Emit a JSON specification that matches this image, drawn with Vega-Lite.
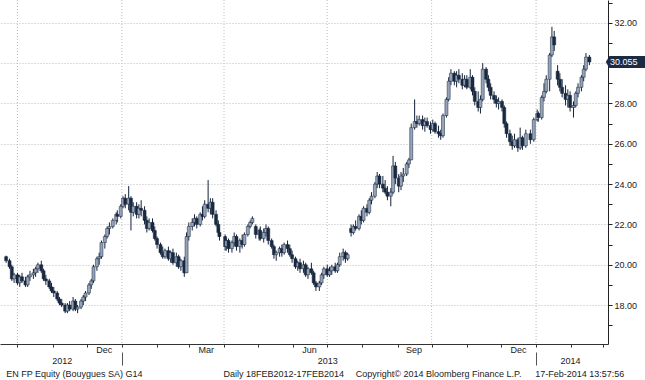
{
  "$schema": "https://vega.github.io/schema/vega-lite/v6.json",
  "width": 608,
  "height": 344,
  "autosize": {"type": "none"},
  "padding": {"left": 0, "top": 0, "right": 37, "bottom": 36},
  "background": "white",
  "config": {
    "view": {"stroke": null},
    "font": "Liberation Sans",
    "axis": {"labelFont": "Liberation Sans", "labelFontSize": 9, "labelColor": "#1a1a1a", "titleFont": "Liberation Sans"}
  },
  "datasets": {
    "px": [
      {"d":"2012-09-21","o":20.4,"h":20.45,"l":20.1,"c":20.2},
      {"d":"2012-09-24","o":20.2,"h":20.3,"l":19.8,"c":19.9},
      {"d":"2012-09-26","o":19.9,"h":20.0,"l":19.2,"c":19.3},
      {"d":"2012-09-28","o":19.3,"h":19.6,"l":19.1,"c":19.5},
      {"d":"2012-10-01","o":19.5,"h":19.6,"l":19.0,"c":19.1},
      {"d":"2012-10-03","o":19.1,"h":19.5,"l":18.9,"c":19.4},
      {"d":"2012-10-05","o":19.4,"h":19.6,"l":19.1,"c":19.2},
      {"d":"2012-10-08","o":19.2,"h":19.4,"l":18.9,"c":19.0},
      {"d":"2012-10-10","o":19.0,"h":19.5,"l":18.9,"c":19.4},
      {"d":"2012-10-12","o":19.4,"h":19.7,"l":19.2,"c":19.5},
      {"d":"2012-10-15","o":19.5,"h":19.8,"l":19.3,"c":19.6},
      {"d":"2012-10-17","o":19.6,"h":19.9,"l":19.4,"c":19.8},
      {"d":"2012-10-19","o":19.8,"h":20.1,"l":19.6,"c":20.0},
      {"d":"2012-10-22","o":20.0,"h":20.2,"l":19.6,"c":19.7},
      {"d":"2012-10-24","o":19.7,"h":19.8,"l":19.2,"c":19.3},
      {"d":"2012-10-26","o":19.3,"h":19.5,"l":19.0,"c":19.2},
      {"d":"2012-10-29","o":19.2,"h":19.3,"l":18.8,"c":18.9},
      {"d":"2012-10-31","o":18.9,"h":19.1,"l":18.6,"c":18.7},
      {"d":"2012-11-02","o":18.7,"h":18.9,"l":18.4,"c":18.6},
      {"d":"2012-11-05","o":18.6,"h":18.7,"l":18.2,"c":18.3},
      {"d":"2012-11-07","o":18.3,"h":18.4,"l":18.0,"c":18.1},
      {"d":"2012-11-09","o":18.1,"h":18.3,"l":17.9,"c":18.0},
      {"d":"2012-11-12","o":18.0,"h":18.1,"l":17.6,"c":17.7},
      {"d":"2012-11-14","o":17.7,"h":18.1,"l":17.6,"c":18.0},
      {"d":"2012-11-16","o":18.0,"h":18.2,"l":17.7,"c":17.8},
      {"d":"2012-11-19","o":17.8,"h":18.4,"l":17.7,"c":18.2},
      {"d":"2012-11-21","o":18.2,"h":18.3,"l":17.7,"c":17.8},
      {"d":"2012-11-23","o":17.8,"h":18.0,"l":17.6,"c":17.9},
      {"d":"2012-11-26","o":17.9,"h":18.3,"l":17.8,"c":18.2},
      {"d":"2012-11-28","o":18.2,"h":18.5,"l":18.0,"c":18.4},
      {"d":"2012-11-30","o":18.4,"h":18.7,"l":18.2,"c":18.6},
      {"d":"2012-12-03","o":18.6,"h":19.1,"l":18.5,"c":19.0},
      {"d":"2012-12-05","o":19.0,"h":19.3,"l":18.8,"c":19.2},
      {"d":"2012-12-07","o":19.2,"h":20.0,"l":19.1,"c":19.9},
      {"d":"2012-12-10","o":19.9,"h":20.4,"l":19.7,"c":20.3},
      {"d":"2012-12-12","o":20.3,"h":20.6,"l":20.0,"c":20.4},
      {"d":"2012-12-14","o":20.4,"h":21.2,"l":20.3,"c":21.1},
      {"d":"2012-12-17","o":21.1,"h":21.5,"l":20.8,"c":21.4},
      {"d":"2012-12-19","o":21.4,"h":21.9,"l":21.3,"c":21.8},
      {"d":"2012-12-21","o":21.8,"h":22.1,"l":21.5,"c":21.9},
      {"d":"2012-12-24","o":21.9,"h":22.3,"l":21.8,"c":22.2},
      {"d":"2012-12-27","o":22.2,"h":22.6,"l":22.0,"c":22.5},
      {"d":"2012-12-28","o":22.5,"h":22.7,"l":22.1,"c":22.4},
      {"d":"2012-12-31","o":22.4,"h":23.0,"l":22.3,"c":22.9},
      {"d":"2013-01-02","o":22.9,"h":23.4,"l":22.8,"c":23.3},
      {"d":"2013-01-04","o":23.3,"h":23.5,"l":22.8,"c":23.0},
      {"d":"2013-01-07","o":23.0,"h":23.9,"l":22.7,"c":23.3},
      {"d":"2013-01-09","o":23.3,"h":23.4,"l":21.7,"c":22.6},
      {"d":"2013-01-11","o":22.6,"h":23.1,"l":22.4,"c":22.9},
      {"d":"2013-01-14","o":22.9,"h":23.1,"l":22.3,"c":22.5},
      {"d":"2013-01-16","o":22.5,"h":23.0,"l":22.3,"c":22.8},
      {"d":"2013-01-18","o":22.8,"h":23.2,"l":22.4,"c":22.7},
      {"d":"2013-01-21","o":22.7,"h":22.9,"l":22.0,"c":22.2},
      {"d":"2013-01-23","o":22.2,"h":22.4,"l":21.6,"c":21.8},
      {"d":"2013-01-25","o":21.8,"h":22.3,"l":21.7,"c":22.1},
      {"d":"2013-01-28","o":22.1,"h":22.3,"l":21.6,"c":21.7},
      {"d":"2013-01-30","o":21.7,"h":21.9,"l":21.2,"c":21.3},
      {"d":"2013-02-01","o":21.3,"h":21.4,"l":20.8,"c":21.0},
      {"d":"2013-02-04","o":21.0,"h":21.1,"l":20.5,"c":20.6},
      {"d":"2013-02-06","o":20.6,"h":20.9,"l":20.3,"c":20.4},
      {"d":"2013-02-08","o":20.4,"h":20.8,"l":20.3,"c":20.7},
      {"d":"2013-02-11","o":20.7,"h":20.9,"l":20.2,"c":20.3},
      {"d":"2013-02-13","o":20.3,"h":20.7,"l":20.1,"c":20.6},
      {"d":"2013-02-15","o":20.6,"h":20.8,"l":20.0,"c":20.1},
      {"d":"2013-02-18","o":20.1,"h":20.6,"l":19.9,"c":20.4},
      {"d":"2013-02-20","o":20.4,"h":20.5,"l":19.8,"c":19.9},
      {"d":"2013-02-22","o":19.9,"h":20.3,"l":19.7,"c":20.2},
      {"d":"2013-02-25","o":20.2,"h":20.4,"l":19.4,"c":19.6},
      {"d":"2013-02-27","o":19.6,"h":21.6,"l":19.6,"c":21.4},
      {"d":"2013-03-01","o":21.4,"h":22.1,"l":21.2,"c":21.9},
      {"d":"2013-03-04","o":21.9,"h":22.3,"l":21.7,"c":22.1},
      {"d":"2013-03-06","o":22.1,"h":22.5,"l":21.9,"c":22.3},
      {"d":"2013-03-08","o":22.3,"h":22.4,"l":21.8,"c":22.0},
      {"d":"2013-03-11","o":22.0,"h":22.6,"l":21.9,"c":22.5},
      {"d":"2013-03-13","o":22.5,"h":22.9,"l":22.2,"c":22.4},
      {"d":"2013-03-15","o":22.4,"h":23.2,"l":22.3,"c":23.0},
      {"d":"2013-03-18","o":23.0,"h":24.2,"l":22.6,"c":22.8},
      {"d":"2013-03-20","o":22.8,"h":23.3,"l":22.5,"c":23.1},
      {"d":"2013-03-22","o":23.1,"h":23.3,"l":22.3,"c":22.5},
      {"d":"2013-03-25","o":22.5,"h":22.7,"l":21.9,"c":22.0},
      {"d":"2013-03-27","o":22.0,"h":22.2,"l":21.4,"c":21.6},
      {"d":"2013-03-28","o":21.6,"h":21.8,"l":21.2,"c":21.4},
      {"d":"2013-04-02","o":21.4,"h":21.5,"l":20.7,"c":20.9},
      {"d":"2013-04-03","o":20.9,"h":21.3,"l":20.7,"c":21.2},
      {"d":"2013-04-05","o":21.2,"h":21.3,"l":20.6,"c":20.8},
      {"d":"2013-04-08","o":20.8,"h":21.2,"l":20.6,"c":21.1},
      {"d":"2013-04-10","o":21.1,"h":21.6,"l":20.9,"c":21.4},
      {"d":"2013-04-12","o":21.4,"h":21.5,"l":20.7,"c":20.9},
      {"d":"2013-04-15","o":20.9,"h":21.3,"l":20.6,"c":21.2},
      {"d":"2013-04-17","o":21.2,"h":21.5,"l":20.8,"c":21.0},
      {"d":"2013-04-19","o":21.0,"h":21.6,"l":20.9,"c":21.5},
      {"d":"2013-04-22","o":21.5,"h":22.0,"l":21.4,"c":21.9},
      {"d":"2013-04-24","o":21.9,"h":22.2,"l":21.8,"c":22.1},
      {"d":"2013-04-26","o":22.1,"h":22.4,"l":22.0,"c":22.3},
      {"d":"2013-04-29","o":21.9,"h":22.0,"l":21.3,"c":21.5},
      {"d":"2013-05-02","o":21.5,"h":21.8,"l":21.2,"c":21.7},
      {"d":"2013-05-03","o":21.7,"h":21.9,"l":21.2,"c":21.3},
      {"d":"2013-05-06","o":21.3,"h":21.8,"l":21.1,"c":21.6},
      {"d":"2013-05-08","o":21.6,"h":22.0,"l":21.4,"c":21.8},
      {"d":"2013-05-10","o":21.8,"h":21.9,"l":21.0,"c":21.2},
      {"d":"2013-05-13","o":21.2,"h":21.3,"l":20.8,"c":20.9},
      {"d":"2013-05-15","o":20.9,"h":21.0,"l":20.3,"c":20.5},
      {"d":"2013-05-17","o":20.5,"h":20.7,"l":20.2,"c":20.6},
      {"d":"2013-05-20","o":20.6,"h":20.9,"l":20.4,"c":20.8},
      {"d":"2013-05-22","o":20.8,"h":21.0,"l":20.4,"c":20.6},
      {"d":"2013-05-24","o":20.6,"h":21.1,"l":20.5,"c":21.0},
      {"d":"2013-05-27","o":21.0,"h":21.2,"l":20.6,"c":20.8},
      {"d":"2013-05-29","o":20.8,"h":21.0,"l":20.4,"c":20.5},
      {"d":"2013-05-31","o":20.5,"h":20.7,"l":20.1,"c":20.3},
      {"d":"2013-06-03","o":20.3,"h":20.4,"l":19.8,"c":19.9},
      {"d":"2013-06-05","o":19.9,"h":20.2,"l":19.7,"c":20.1},
      {"d":"2013-06-07","o":20.1,"h":20.3,"l":19.6,"c":19.8},
      {"d":"2013-06-10","o":19.8,"h":20.2,"l":19.6,"c":20.0},
      {"d":"2013-06-12","o":20.0,"h":20.1,"l":19.4,"c":19.5},
      {"d":"2013-06-14","o":19.5,"h":19.9,"l":19.3,"c":19.8},
      {"d":"2013-06-17","o":19.8,"h":20.1,"l":19.5,"c":19.6},
      {"d":"2013-06-19","o":19.6,"h":19.7,"l":19.0,"c":19.1},
      {"d":"2013-06-21","o":19.1,"h":19.2,"l":18.7,"c":18.9},
      {"d":"2013-06-24","o":18.9,"h":19.2,"l":18.7,"c":19.1},
      {"d":"2013-06-26","o":19.1,"h":19.6,"l":19.0,"c":19.5},
      {"d":"2013-06-28","o":19.5,"h":19.9,"l":19.3,"c":19.8},
      {"d":"2013-07-01","o":19.8,"h":20.0,"l":19.4,"c":19.5},
      {"d":"2013-07-03","o":19.5,"h":19.9,"l":19.4,"c":19.7},
      {"d":"2013-07-05","o":19.7,"h":20.0,"l":19.5,"c":19.9},
      {"d":"2013-07-08","o":19.9,"h":20.1,"l":19.6,"c":19.7},
      {"d":"2013-07-10","o":19.7,"h":20.1,"l":19.6,"c":20.0},
      {"d":"2013-07-12","o":20.0,"h":20.6,"l":19.9,"c":20.4},
      {"d":"2013-07-15","o":20.4,"h":20.8,"l":20.2,"c":20.6},
      {"d":"2013-07-17","o":20.6,"h":20.7,"l":20.1,"c":20.3},
      {"d":"2013-07-19","o":20.3,"h":20.6,"l":20.2,"c":20.5},
      {"d":"2013-07-22","o":21.8,"h":22.0,"l":21.4,"c":21.6},
      {"d":"2013-07-24","o":21.6,"h":22.0,"l":21.5,"c":21.9},
      {"d":"2013-07-26","o":21.9,"h":22.2,"l":21.7,"c":21.8},
      {"d":"2013-07-29","o":21.8,"h":22.5,"l":21.7,"c":22.4},
      {"d":"2013-07-31","o":22.4,"h":22.7,"l":22.0,"c":22.2},
      {"d":"2013-08-02","o":22.2,"h":22.9,"l":22.1,"c":22.8},
      {"d":"2013-08-05","o":22.8,"h":23.0,"l":22.4,"c":22.6},
      {"d":"2013-08-07","o":22.6,"h":23.3,"l":22.5,"c":23.2},
      {"d":"2013-08-09","o":23.2,"h":23.6,"l":23.0,"c":23.4},
      {"d":"2013-08-12","o":23.4,"h":24.1,"l":23.3,"c":24.0},
      {"d":"2013-08-14","o":24.0,"h":24.6,"l":23.8,"c":24.4},
      {"d":"2013-08-16","o":24.4,"h":24.5,"l":23.8,"c":24.0},
      {"d":"2013-08-19","o":24.0,"h":24.4,"l":23.6,"c":23.8},
      {"d":"2013-08-21","o":23.8,"h":24.2,"l":23.5,"c":23.6},
      {"d":"2013-08-23","o":23.6,"h":23.9,"l":23.2,"c":23.4},
      {"d":"2013-08-26","o":23.4,"h":23.8,"l":22.9,"c":23.6},
      {"d":"2013-08-28","o":23.6,"h":25.4,"l":23.5,"c":24.9},
      {"d":"2013-08-30","o":24.9,"h":25.1,"l":24.0,"c":24.3},
      {"d":"2013-09-02","o":24.3,"h":24.5,"l":23.6,"c":23.9},
      {"d":"2013-09-04","o":23.9,"h":24.6,"l":23.7,"c":24.4},
      {"d":"2013-09-06","o":24.4,"h":24.8,"l":24.1,"c":24.5},
      {"d":"2013-09-09","o":24.5,"h":25.1,"l":24.4,"c":25.0},
      {"d":"2013-09-11","o":25.0,"h":25.3,"l":24.8,"c":25.2},
      {"d":"2013-09-13","o":25.2,"h":27.0,"l":25.2,"c":26.8},
      {"d":"2013-09-16","o":26.8,"h":28.2,"l":26.7,"c":27.1},
      {"d":"2013-09-18","o":27.1,"h":27.4,"l":26.8,"c":27.0},
      {"d":"2013-09-20","o":27.0,"h":27.4,"l":26.9,"c":27.2},
      {"d":"2013-09-23","o":27.2,"h":27.4,"l":26.7,"c":26.9},
      {"d":"2013-09-25","o":26.9,"h":27.3,"l":26.6,"c":27.1},
      {"d":"2013-09-27","o":27.1,"h":27.3,"l":26.8,"c":26.9},
      {"d":"2013-09-30","o":26.9,"h":27.1,"l":26.5,"c":26.7},
      {"d":"2013-10-02","o":26.7,"h":27.2,"l":26.6,"c":27.0},
      {"d":"2013-10-04","o":27.0,"h":27.1,"l":26.5,"c":26.6},
      {"d":"2013-10-07","o":26.6,"h":26.9,"l":26.3,"c":26.5},
      {"d":"2013-10-09","o":26.5,"h":26.7,"l":26.2,"c":26.4},
      {"d":"2013-10-11","o":26.4,"h":27.5,"l":26.3,"c":27.4},
      {"d":"2013-10-14","o":27.4,"h":28.3,"l":27.3,"c":28.2},
      {"d":"2013-10-16","o":28.2,"h":29.3,"l":28.1,"c":29.1},
      {"d":"2013-10-18","o":29.1,"h":29.7,"l":28.9,"c":29.5},
      {"d":"2013-10-21","o":29.5,"h":29.6,"l":28.9,"c":29.1},
      {"d":"2013-10-23","o":29.1,"h":29.6,"l":28.8,"c":29.4},
      {"d":"2013-10-25","o":29.4,"h":29.7,"l":29.0,"c":29.2},
      {"d":"2013-10-28","o":29.2,"h":29.5,"l":28.7,"c":28.9},
      {"d":"2013-10-30","o":28.9,"h":29.4,"l":28.8,"c":29.2},
      {"d":"2013-11-01","o":29.2,"h":29.4,"l":28.7,"c":28.8},
      {"d":"2013-11-04","o":28.8,"h":29.7,"l":28.7,"c":29.3},
      {"d":"2013-11-06","o":29.3,"h":29.4,"l":28.4,"c":28.6},
      {"d":"2013-11-08","o":28.6,"h":28.8,"l":27.9,"c":28.1},
      {"d":"2013-11-11","o":28.1,"h":28.6,"l":27.6,"c":27.8},
      {"d":"2013-11-13","o":27.8,"h":28.4,"l":27.5,"c":28.2},
      {"d":"2013-11-15","o":28.2,"h":30.0,"l":28.1,"c":29.7},
      {"d":"2013-11-18","o":29.7,"h":29.8,"l":29.0,"c":29.2},
      {"d":"2013-11-20","o":29.2,"h":29.4,"l":28.6,"c":28.8},
      {"d":"2013-11-22","o":28.8,"h":29.0,"l":28.2,"c":28.4},
      {"d":"2013-11-25","o":28.4,"h":28.6,"l":28.0,"c":28.2},
      {"d":"2013-11-27","o":28.2,"h":28.4,"l":27.8,"c":28.0},
      {"d":"2013-11-29","o":28.0,"h":28.3,"l":27.7,"c":28.1},
      {"d":"2013-12-02","o":28.1,"h":28.2,"l":27.6,"c":27.8},
      {"d":"2013-12-04","o":27.8,"h":27.9,"l":26.8,"c":27.0},
      {"d":"2013-12-06","o":27.0,"h":27.1,"l":26.3,"c":26.5},
      {"d":"2013-12-09","o":26.5,"h":26.7,"l":25.9,"c":26.1},
      {"d":"2013-12-11","o":26.1,"h":26.4,"l":25.7,"c":25.9},
      {"d":"2013-12-13","o":25.9,"h":26.5,"l":25.8,"c":26.2},
      {"d":"2013-12-16","o":26.2,"h":26.3,"l":25.6,"c":25.8},
      {"d":"2013-12-18","o":25.8,"h":26.8,"l":25.7,"c":26.3},
      {"d":"2013-12-20","o":26.3,"h":26.4,"l":25.7,"c":25.9},
      {"d":"2013-12-23","o":25.9,"h":26.7,"l":25.8,"c":26.5},
      {"d":"2013-12-27","o":26.5,"h":26.7,"l":26.0,"c":26.2},
      {"d":"2013-12-30","o":26.2,"h":27.3,"l":26.1,"c":27.2},
      {"d":"2014-01-02","o":27.2,"h":27.7,"l":27.1,"c":27.5},
      {"d":"2014-01-03","o":27.5,"h":27.6,"l":27.1,"c":27.3},
      {"d":"2014-01-06","o":27.3,"h":28.4,"l":27.2,"c":28.3},
      {"d":"2014-01-08","o":28.3,"h":29.0,"l":28.1,"c":28.6},
      {"d":"2014-01-10","o":28.6,"h":29.4,"l":28.5,"c":29.2},
      {"d":"2014-01-13","o":29.2,"h":30.5,"l":28.6,"c":30.4},
      {"d":"2014-01-15","o":30.4,"h":31.8,"l":30.3,"c":31.3},
      {"d":"2014-01-17","o":31.3,"h":31.6,"l":30.6,"c":30.9},
      {"d":"2014-01-20","o":29.6,"h":29.9,"l":28.9,"c":29.2},
      {"d":"2014-01-22","o":29.2,"h":29.5,"l":28.6,"c":28.8},
      {"d":"2014-01-24","o":28.8,"h":29.2,"l":28.3,"c":28.5},
      {"d":"2014-01-27","o":28.5,"h":28.9,"l":27.9,"c":28.2},
      {"d":"2014-01-29","o":28.2,"h":28.7,"l":27.8,"c":28.4},
      {"d":"2014-01-31","o":28.4,"h":28.6,"l":27.6,"c":27.8},
      {"d":"2014-02-03","o":27.8,"h":28.1,"l":27.3,"c":27.9},
      {"d":"2014-02-05","o":27.9,"h":28.6,"l":27.8,"c":28.5},
      {"d":"2014-02-07","o":28.5,"h":29.0,"l":28.3,"c":28.8},
      {"d":"2014-02-10","o":28.8,"h":29.4,"l":28.6,"c":29.3},
      {"d":"2014-02-12","o":29.3,"h":29.9,"l":29.1,"c":29.7},
      {"d":"2014-02-14","o":29.7,"h":30.5,"l":29.6,"c":30.3},
      {"d":"2014-02-17","o":30.3,"h":30.4,"l":29.9,"c":30.055}
    ]
  },
  "layer": [
    {
      "data": {"values": [{"q":"2012-10-01"},{"q":"2013-01-01"},{"q":"2013-04-01"},{"q":"2013-07-01"},{"q":"2013-10-01"},{"q":"2014-01-01"}]},
      "mark": {"type": "rule", "color": "#bcbcbc", "strokeDash": [1, 2], "strokeWidth": 1},
      "encoding": {
        "x": {
          "field": "q", "type": "temporal",
          "scale": {"domain": [{"year": 2012, "month": 9, "date": 20}, {"year": 2014, "month": 3, "date": 1}]},
          "axis": {
            "orient": "bottom", "title": null, "grid": false, "labels": false,
            "ticks": true, "tickSize": 3, "tickColor": "#333333", "domain": true, "domainColor": "#333333",
            "values": [
              {"year":2012,"month":10,"date":1},{"year":2012,"month":11,"date":1},{"year":2012,"month":12,"date":1},
              {"year":2013,"month":1,"date":1},{"year":2013,"month":2,"date":1},{"year":2013,"month":3,"date":1},
              {"year":2013,"month":4,"date":1},{"year":2013,"month":5,"date":1},{"year":2013,"month":6,"date":1},
              {"year":2013,"month":7,"date":1},{"year":2013,"month":8,"date":1},{"year":2013,"month":9,"date":1},
              {"year":2013,"month":10,"date":1},{"year":2013,"month":11,"date":1},{"year":2013,"month":12,"date":1},
              {"year":2014,"month":1,"date":1},{"year":2014,"month":2,"date":1},{"year":2014,"month":3,"date":1}
            ]
          }
        }
      }
    },
    {
      "data": {"name": "px"},
      "mark": {"type": "rule", "color": "#14223a", "strokeWidth": 1},
      "encoding": {
        "x": {
          "field": "d", "type": "temporal",
          "scale": {"domain": [{"year": 2012, "month": 9, "date": 20}, {"year": 2014, "month": 3, "date": 1}]},
          "axis": {
            "orient": "bottom", "title": null, "grid": false, "domain": false, "ticks": false, "tickSize": 0,
            "labelPadding": 1.5, "labelOverlap": false, "labelFlush": false, "labelBound": false,
            "labelExpr": "timeFormat(datum.value, '%b')",
            "values": [
              {"year":2012,"month":12,"date":16},{"year":2013,"month":3,"date":16},{"year":2013,"month":6,"date":15},
              {"year":2013,"month":9,"date":15},{"year":2013,"month":12,"date":16}
            ]
          }
        },
        "y": {
          "field": "l", "type": "quantitative",
          "scale": {"domain": [16.07, 33.13], "nice": false, "zero": false},
          "axis": {
            "orient": "right", "title": null,
            "values": [17,18,19,20,21,22,23,24,25,26,27,28,29,30,31,32,33],
            "labelExpr": "(datum.value % 2 == 0 && datum.value != 30) ? format(datum.value, '.2f') : ''",
            "grid": true, "gridColor": "#bcbcbc", "gridDash": [1, 2],
            "gridOpacity": {"condition": {"test": "datum.value % 2 == 1", "value": 0}, "value": 1},
            "tickSize": 4, "tickColor": "#222222", "domain": true, "domainColor": "#222222", "labelPadding": 2,
            "labelOverlap": false, "labelBound": false, "labelFlush": false
          }
        },
        "y2": {"field": "h"}
      }
    },
    {
      "data": {"name": "px"},
      "mark": {"type": "bar", "size": 3, "stroke": "#14223a", "strokeWidth": 0.5},
      "encoding": {
        "x": {
          "field": "d", "type": "temporal",
          "scale": {"domain": [{"year": 2012, "month": 9, "date": 20}, {"year": 2014, "month": 3, "date": 1}]},
          "axis": {
            "orient": "bottom", "title": null, "grid": false, "domain": false, "ticks": false, "tickSize": 0,
            "labelPadding": 12.5, "labelOverlap": false, "labelFlush": false, "labelBound": false,
            "labelExpr": "timeFormat(datum.value, '%Y')",
            "values": [{"year":2012,"month":11,"date":9},{"year":2013,"month":7,"date":1},{"year":2014,"month":1,"date":31}]
          }
        },
        "y": {"field": "o", "type": "quantitative", "axis": null},
        "y2": {"field": "c"},
        "fill": {"condition": {"test": "datum.c >= datum.o", "value": "#95a4b8"}, "value": "#1a2a40"}
      }
    },
    {
      "data": {"values": [{"v": 30.055, "t": "30.055"}]},
      "mark": {"type": "point", "filled": true, "opacity": 1, "color": "#1b2b45", "size": 6400,
               "shape": "M0.07,0 L0.16,-0.15 L1.2,-0.15 L1.2,0.15 L0.16,0.15 Z"},
      "encoding": {
        "x": {
          "datum": {"year": 2014, "month": 3, "date": 1}, "type": "temporal",
          "axis": {
            "orient": "bottom", "title": null, "grid": false, "domain": false, "labels": false,
            "ticks": true, "tickSize": 13, "tickColor": "#555555", "offset": 8,
            "values": [{"year":2013,"month":1,"date":1},{"year":2014,"month":1,"date":1}]
          }
        },
        "y": {"field": "v", "type": "quantitative", "axis": null}
      }
    },
    {
      "data": {"values": [{"v": 30.055, "t": "30.055"}]},
      "mark": {"type": "text", "color": "white", "align": "left", "baseline": "middle", "dx": 7, "fontSize": 9, "font": "Liberation Sans"},
      "encoding": {
        "x": {
          "datum": {"year": 2014, "month": 3, "date": 1}, "type": "temporal",
          "axis": {
            "orient": "bottom", "title": null, "grid": false, "domain": false, "ticks": false, "tickSize": 0,
            "labelPadding": 25, "labelOverlap": false, "labelFlush": false, "labelBound": false, "labelAlign": "center",
            "labelExpr": "datum.value < datetime(2013,0,1) ? 'EN FP Equity (Bouygues SA) G14' : datum.value < datetime(2013,8,1) ? 'Daily 18FEB2012-17FEB2014' : datum.value < datetime(2014,0,1) ? 'Copyright\u00a9 2014 Bloomberg Finance L.P.' : '17-Feb-2014 13:57:56'",
            "values": [
              {"year":2012,"month":11,"date":19,"hours":17},
              {"year":2013,"month":5,"date":23,"hours":5},
              {"year":2013,"month":10,"date":6,"hours":17},
              {"year":2014,"month":2,"date":8}
            ]
          }
        },
        "y": {"field": "v", "type": "quantitative", "axis": null},
        "text": {"field": "t"}
      }
    }
  ],
  "resolve": {"axis": {"x": "independent", "y": "independent"}}
}
